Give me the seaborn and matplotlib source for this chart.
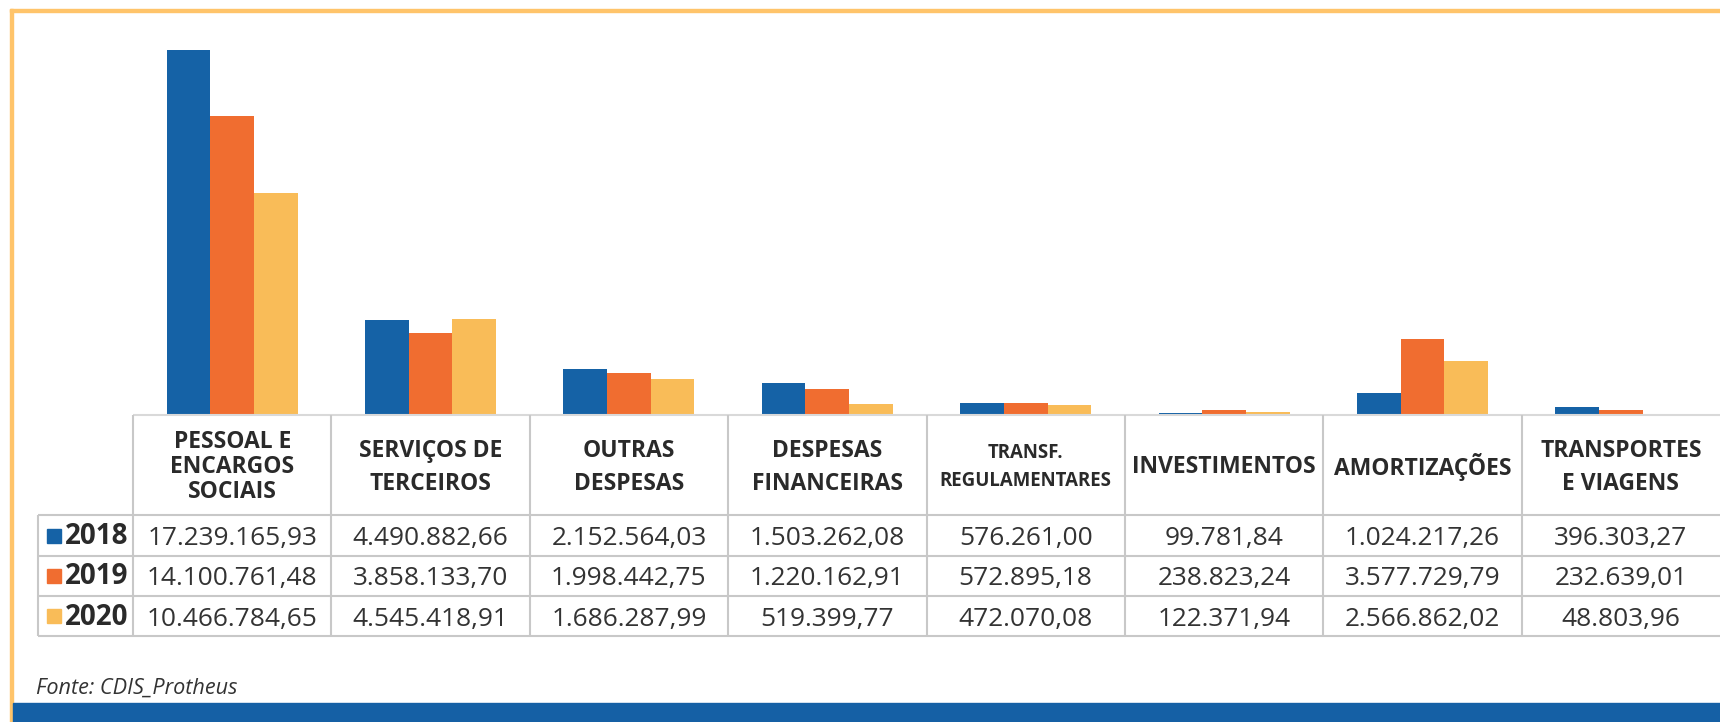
import numpy as np
import pandas as pd
import matplotlib
matplotlib.use("Agg")
import matplotlib.pyplot as plt
from matplotlib.patches import Rectangle
import seaborn as sns

# ---- data -------------------------------------------------------------
categories = [
    "PESSOAL E\nENCARGOS\nSOCIAIS",
    "SERVIÇOS DE\nTERCEIROS",
    "OUTRAS\nDESPESAS",
    "DESPESAS\nFINANCEIRAS",
    "TRANSF.\nREGULAMENTARES",
    "INVESTIMENTOS",
    "AMORTIZAÇÕES",
    "TRANSPORTES\nE VIAGENS",
]
years = ["2018", "2019", "2020"]
v2018 = [17239165.93, 4490882.66, 2152564.03, 1503262.08, 576261.00, 99781.84, 1024217.26, 396303.27]
v2019 = [14100761.48, 3858133.70, 1998442.75, 1220162.91, 572895.18, 238823.24, 3577729.79, 232639.01]
v2020 = [10466784.65, 4545418.91, 1686287.99, 519399.77, 472070.08, 122371.94, 2566862.02, 48803.96]
source = "Fonte: CDIS_Protheus"

palette = ["#1562A6", "#F06D30", "#F9BC58"]
series = [v2018, v2019, v2020]

df = pd.DataFrame({
    "categoria": categories * 3,
    "ano": [y for y in years for _ in categories],
    "valor": v2018 + v2019 + v2020,
})


def fmt_br(v):
    s = f"{v:,.2f}"
    return s.replace(",", "#").replace(".", ",").replace("#", ".")


# ---- figure / layout (pixel based) -------------------------------------
W, H = 1720, 722
sns.set_style("white")
plt.rcParams["font.family"] = ["Open Sans", "DejaVu Sans"]

fig = plt.figure(figsize=(W / 100, H / 100), dpi=100)
fig.patch.set_facecolor("white")

tab_left = 133          # left edge of the first category column
lab_left = 38           # left edge of the year-label column
base_y = 415            # bar baseline / table top
plot_top = 30
col_w = (W - tab_left) / len(categories)


def fx(px):
    return px / W


def fy(py):
    return 1 - py / H


# bar chart
ax = fig.add_axes([fx(tab_left), fy(base_y), 1 - fx(tab_left), (base_y - plot_top) / H])
sns.barplot(
    data=df, x="categoria", y="valor", hue="ano",
    order=categories, hue_order=years, palette=palette,
    width=0.66, saturation=1, linewidth=0, legend=False, ax=ax,
)
ax.set_xlim(-0.5, len(categories) - 0.5)
ax.set_ylim(0, max(v2018) * (base_y - plot_top) / 365)
ax.axis("off")

# table underneath, same column grid as the bars
tab_bottom = 636
tax = fig.add_axes([fx(lab_left), fy(tab_bottom), 1 - fx(lab_left), (tab_bottom - base_y) / H])
x_lab = -0.5 - (tab_left - lab_left) / col_w
tax.set_xlim(x_lab, len(categories) - 0.5)
hdr = 2.5
tax.set_ylim(hdr + len(years), 0)
tax.axis("off")

grid_c = "#C8C8C8"
lw = 1.5
tax.plot([-0.5, len(categories) - 0.5], [0, 0], color="#D9D9D9", lw=lw, clip_on=False,
         solid_capstyle="butt")
for r in range(len(years) + 1):
    tax.plot([x_lab, len(categories) - 0.5], [hdr + r, hdr + r], color=grid_c, lw=lw,
             clip_on=False, solid_capstyle="butt")
for k in range(len(categories)):
    tax.plot([k - 0.5, k - 0.5], [0, hdr + len(years)], color=grid_c, lw=lw, clip_on=False,
             solid_capstyle="butt")
tax.plot([x_lab, x_lab], [hdr, hdr + len(years)], color=grid_c, lw=lw, clip_on=False,
         solid_capstyle="butt")

txt_c = "#2A2A2A"
for i, cat in enumerate(categories):
    small = cat.startswith("TRANSF.")
    size = 13.4 if small else 16.5
    n_lines = cat.count("\n") + 1
    spacing = 1.05 if n_lines == 3 else 1.5
    tax.text(i, 1.3, cat, ha="center", va="center", fontsize=size, fontweight="bold",
             color=txt_c, linespacing=spacing)

for r, (yr, vals, col) in enumerate(zip(years, series, palette)):
    yc = hdr + r + 0.5
    tax.plot([(54.5 - tab_left) / col_w - 0.5], [yc], marker="s", markersize=10.6,
             color=col, linestyle="none", clip_on=False)
    tax.text((65 - tab_left) / col_w - 0.5, yc + 0.03, yr, ha="left", va="center",
             fontsize=20, fontweight="bold", color=txt_c)
    for i, v in enumerate(vals):
        tax.text(i, yc + 0.08, fmt_br(v), ha="center", va="center", fontsize=18.9,
                 color="#333333")

# source note
fig.text(fx(36), fy(688), source, ha="left", va="center", fontsize=15.6, style="italic",
         color="#333333")

# frame: light orange border top/left, blue band at the bottom
border = "#FFC46A"
fig.patches.append(Rectangle((fx(10), fy(12)), 1 - fx(10), 3 / H, color=border,
                             transform=fig.transFigure, zorder=5))
fig.patches.append(Rectangle((fx(10), 0), 3 / W, fy(9), color=border,
                             transform=fig.transFigure, zorder=5))
fig.patches.append(Rectangle((fx(13), 0), 1 - fx(13), 19 / H, color="#1560A5",
                             transform=fig.transFigure, zorder=5))

fig.savefig("out.png", dpi=100, facecolor="white")
